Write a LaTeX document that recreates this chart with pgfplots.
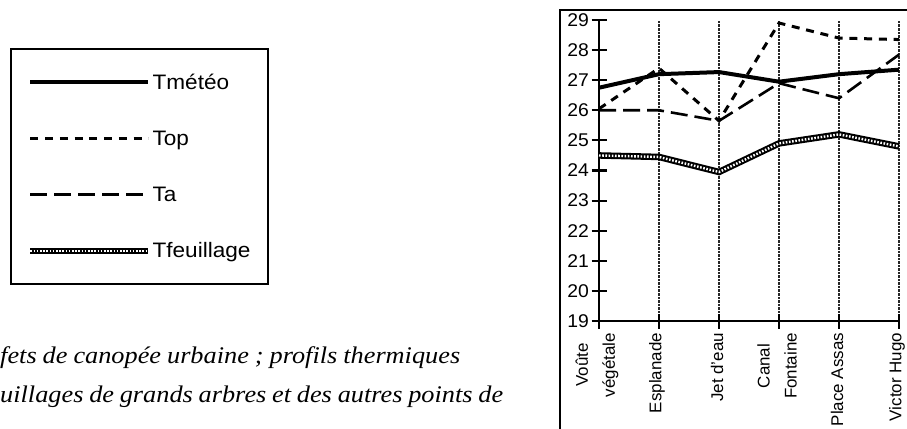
\documentclass[border=0pt]{standalone}
\usepackage{fontspec}
\setmainfont{Liberation Sans}
\newfontfamily\capfont[FakeStretch=1.1]{Liberation Serif}
\newfontfamily\wide[FakeStretch=1.08]{Liberation Sans}
\newfontfamily\tickfont[FakeStretch=1.05]{Liberation Sans}
\usepackage{pgfplots}
\pgfplotsset{compat=1.18}
\begin{document}
\begin{tikzpicture}[x=1bp,y=1bp]
\useasboundingbox (0,0) rectangle (907,428);
\begin{scope}
\clip (0,0) rectangle (907,428);
\draw[line width=2bp] (560,-5) -- (560,418) -- (912,418);
\node[anchor=base west, inner sep=0pt, font=\capfont\itshape\fontsize{24}{24}\selectfont] at (0,65) {\hbox to 457bp{\spaceskip=0.25em plus 1fil fets de canopée urbaine ; profils thermiques}};
\node[anchor=base west, inner sep=0pt, font=\capfont\itshape\fontsize{24}{24}\selectfont] at (0,26) {\hbox to 503bp{\spaceskip=0.2em plus 1fil uillages de grands arbres et des autres points de}};
\end{scope}
\begin{axis}[
  at={(599bp,107bp)}, anchor=south west,
  scale only axis, width=300bp, height=301bp,
  xmin=0, xmax=5, ymin=19, ymax=29,
  axis lines*=left,
  axis line style={line width=2.2bp},
  xtick={0,...,5},
  xticklabels={{Voûte\\végétale},Esplanade,{Jet d'eau},{Canal\\Fontaine},{Place Assas},{Victor Hugo}},
  ytick={19,...,29},
  tick align=center, major tick length=15bp,
  tick style={black, line width=2bp},
  xmajorgrids,
  grid style={black!85, densely dotted, line width=1.6bp},
  xticklabel style={rotate=90, anchor=east, align=center, font=\fontsize{17}{27}\selectfont, xshift=-1bp, yshift=2bp},
  yticklabel style={font=\tickfont\fontsize{18.5}{18.5}\selectfont, xshift=1bp},
  /pgf/number format/assume math mode=true,
  clip=false,
  legend style={at={(axis description cs:-1.963,0.907)}, anchor=north west, draw=black, line width=2bp,
    font=\wide\fontsize{21}{21}\selectfont, inner xsep=16bp, inner ysep=24bp, row sep=38bp,
    nodes={inner sep=1bp}},
  legend cell align=left,
  legend image code/.code={\draw[#1] (0bp,0bp) -- (118bp,0bp);},
]
\addplot[black, solid, line width=4bp] coordinates {(0,26.75) (1,27.2) (2,27.27) (3,26.95) (4,27.2) (5,27.35)};
\addlegendentry{Tmétéo}
\addplot[black, line width=3bp, dash pattern=on 8bp off 6.75bp] coordinates {(0,26.05) (1,27.4) (2,25.65) (3,28.9) (4,28.4) (5,28.35)};
\addlegendentry{Top}
\addplot[black, line width=2.6bp, dash pattern=on 17bp off 7bp] coordinates {(0,26.0) (1,26.0) (2,25.65) (3,26.9) (4,26.4) (5,27.85)};
\addlegendentry{Ta}
\addplot[black, line width=6.5bp, postaction={draw=white, line width=2.4bp, dash pattern=on 1.6bp off 1.6bp}] coordinates {(0,24.5) (1,24.45) (2,23.95) (3,24.9) (4,25.2) (5,24.8)};
\addlegendentry{Tfeuillage}
\end{axis}
\end{tikzpicture}
\end{document}
